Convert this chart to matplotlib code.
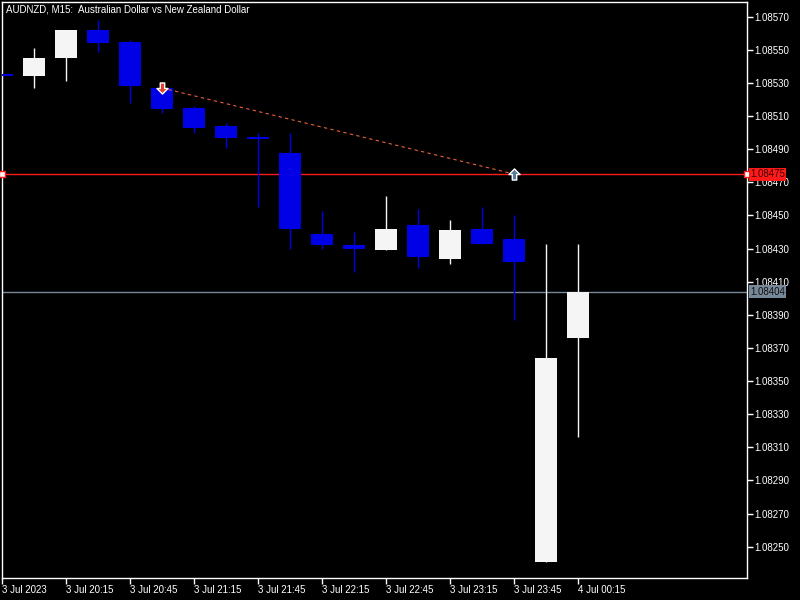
import numpy as np
import matplotlib.pyplot as plt
from matplotlib.path import Path

# AUDNZD M15 bars, 3 Jul 19:45 .. 4 Jul 00:15
opens  = [1.08535, 1.08534, 1.08545, 1.08562, 1.08555, 1.08527, 1.08515, 1.08504, 1.08497, 1.08488,
          1.08439, 1.08432, 1.08429, 1.08444, 1.08424, 1.08442, 1.08436, 1.08241, 1.08376]
highs  = [1.08536, 1.08551, 1.08562, 1.08568, 1.08556, 1.08528, 1.08516, 1.08506, 1.08500, 1.08500,
          1.08453, 1.08440, 1.08462, 1.08454, 1.08447, 1.08455, 1.08450, 1.08433, 1.08433]
lows   = [1.08533, 1.08527, 1.08531, 1.08549, 1.08518, 1.08512, 1.08500, 1.08491, 1.08455, 1.08430,
          1.08430, 1.08416, 1.08429, 1.08418, 1.08421, 1.08433, 1.08387, 1.08241, 1.08316]
closes = [1.08534, 1.08545, 1.08562, 1.08554, 1.08528, 1.08514, 1.08503, 1.08497, 1.08496, 1.08442,
          1.08432, 1.08430, 1.08442, 1.08425, 1.08441, 1.08433, 1.08422, 1.08364, 1.08404]

time_ticks = [0, 2, 4, 6, 8, 10, 12, 14, 16, 18]
time_labels = ["3 Jul 2023", "3 Jul 20:15", "3 Jul 20:45", "3 Jul 21:15", "3 Jul 21:45",
               "3 Jul 22:15", "3 Jul 22:45", "3 Jul 23:15", "3 Jul 23:45", "4 Jul 00:15"]
price_ticks = [1.08250, 1.08270, 1.08290, 1.08310, 1.08330, 1.08350, 1.08370, 1.08390,
               1.08410, 1.08430, 1.08450, 1.08470, 1.08490, 1.08510, 1.08530, 1.08550, 1.08570]

# trade: sell at bar 5, closed at bar 16
trade_bars = [5, 16]
trade_prices = [1.08527, 1.08475]
stop_level = 1.08475
bid_price = 1.08404

BULL = '#f5f5f5'
BEAR = '#0000e6'
FONT = 'Liberation Sans'
FS = 7


def arrow_marker(up):
    s = 1 if up else -1
    verts = [(-0.2, -0.5 * s), (0.2, -0.5 * s), (0.2, 0.0), (0.5, 0.0), (0.0, 0.5 * s),
             (-0.5, 0.0), (-0.2, 0.0), (-0.2, -0.5 * s)]
    codes = [Path.MOVETO] + [Path.LINETO] * 6 + [Path.CLOSEPOLY]
    return Path(verts, codes)


fig = plt.figure(figsize=(8, 6), dpi=100, facecolor='black')
ax = fig.add_axes([2 / 800, 22 / 600, 745 / 800, 576 / 600])
ax.set_facecolor('black')

x = np.arange(len(opens))
for i in x:
    o, h, l, c = opens[i], highs[i], lows[i], closes[i]
    col = BULL if c >= o else BEAR
    ax.vlines(i, l, h, color=col, linewidth=1, zorder=2)
    bottom = min(o, c)
    height = max(abs(c - o), 0.000012)
    ax.bar(i, height, bottom=bottom, width=0.7, color=col, linewidth=0, zorder=3)

# price lines
ax.axhline(bid_price, color='#778899', linewidth=1, zorder=1)
ax.axhline(stop_level, color='#ff1a1a', linewidth=1, zorder=1)
ax.plot([0, 23.28], [stop_level, stop_level], linestyle='none', marker='s', markersize=4,
        markerfacecolor='white', markeredgecolor='#ff1a1a', markeredgewidth=1,
        clip_on=False, zorder=6)

# trade line and arrows
ax.plot(trade_bars, trade_prices, color='#e8603c', linewidth=0.8, linestyle=(0, (3, 3)), zorder=4)
ax.plot(trade_bars[0], trade_prices[0], marker=arrow_marker(False), markersize=8,
        color='#e8402a', markeredgecolor='white', markeredgewidth=1, zorder=7)
ax.plot(trade_bars[1], trade_prices[1], marker=arrow_marker(True), markersize=8,
        color='#5a7a9a', markeredgecolor='white', markeredgewidth=1, zorder=7)

ax.set_xlim(0, 23.28)
ax.set_ylim(1.082311, 1.085789)

for sp in ax.spines.values():
    sp.set_color('white')
    sp.set_linewidth(1)

ax.yaxis.tick_right()
ax.set_yticks(price_ticks, [f'{p:.5f}' for p in price_ticks])
ax.set_xticks(time_ticks, time_labels)
ax.tick_params(colors='white', length=4, width=1, direction='out', pad=1)
for lab in ax.get_yticklabels() + ax.get_xticklabels():
    lab.set_fontfamily(FONT)
    lab.set_fontsize(FS)
for lab in ax.get_xticklabels():
    lab.set_ha('left')

# price labels on the right scale
ax.text(1.004, stop_level, '1.08475', transform=ax.get_yaxis_transform(), color='#400000',
        fontsize=FS, fontfamily=FONT, va='center', ha='left', clip_on=False, zorder=8,
        bbox=dict(boxstyle='square,pad=0.15', facecolor='#ff1a1a', edgecolor='none'))
ax.text(1.004, bid_price, '1.08404', transform=ax.get_yaxis_transform(), color='#101010',
        fontsize=FS, fontfamily=FONT, va='center', ha='left', clip_on=False, zorder=8,
        bbox=dict(boxstyle='square,pad=0.15', facecolor='#778899', edgecolor='none'))

ax.text(0.005, 0.995, 'AUDNZD, M15:  Australian Dollar vs New Zealand Dollar', transform=ax.transAxes,
        color='white', fontsize=FS, fontfamily=FONT, va='top', ha='left', zorder=8)

fig.savefig('out.png', dpi=100, facecolor='black')
